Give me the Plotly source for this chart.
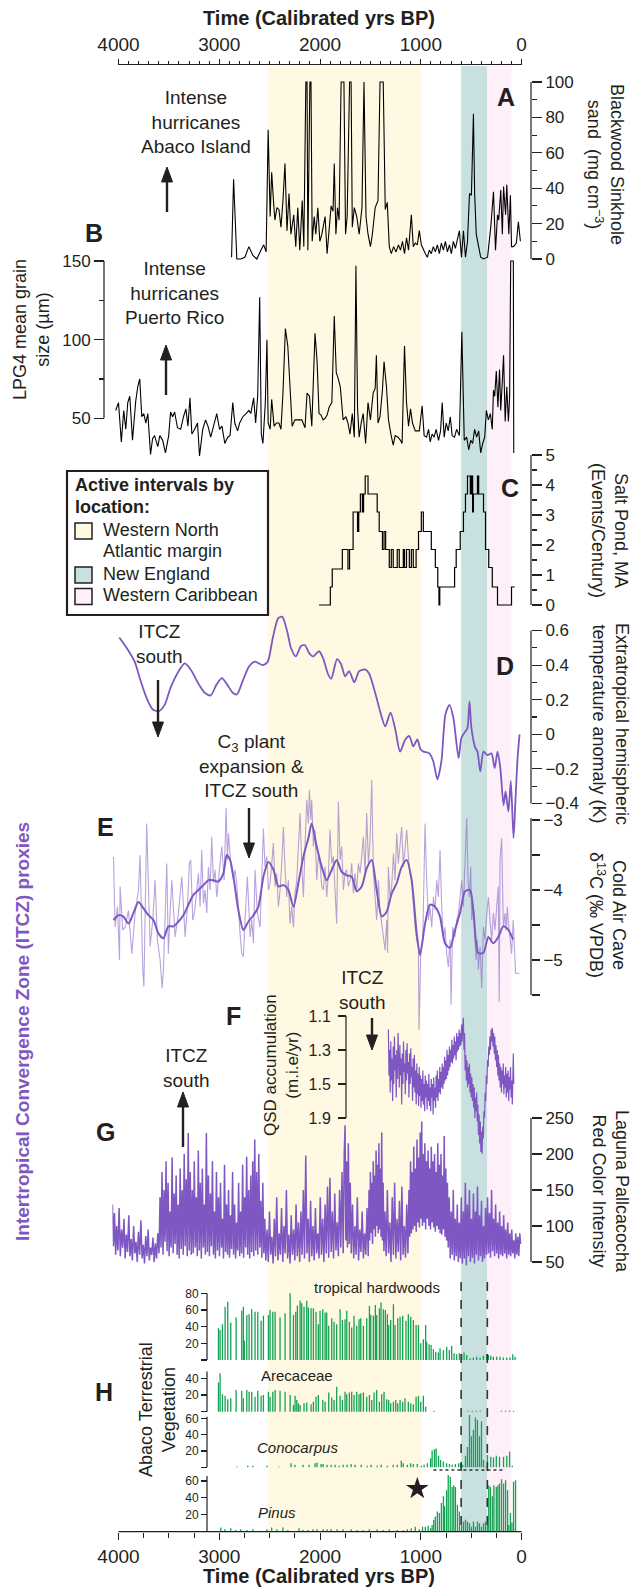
import plotly.graph_objects as go

W, H = 631, 1587
FONT = "Liberation Sans, Arial, Helvetica, sans-serif"
INK = "#231f20"
PURPLE = "#7e57c2"
PURPLE_LIGHT = "rgba(126,87,194,0.55)"
GREEN = "#14a354"
YELLOW_BAND = "#fff9e3"
TEAL_BAND = "#c9e0e1"
PINK_BAND = "#fdf0f8"

# ---------------- data ----------------
TOP_TICKS = [4000, 3000, 2000, 1000, 0]

BANDS = [(2520, 1000, YELLOW_BAND), (600, 340, TEAL_BAND), (340, 100, PINK_BAND)]

# A: Blackwood Sinkhole sand (mg cm-3)
A_year = [2878,2858,2826,2786,2746,2706,2667,2627,2587,2559,2535,2515,2495,2480,2460,2448,2428,2408,2388,2368,
          2348,2328,2308,2289,2261,2241,2221,2201,2177,2161,2141,2129,2121,2101,2090,2078,2058,2042,2022,2002,
          1982,1970,1950,1930,1910,1890,1871,1859,1843,1827,1811,1791,1763,1747,1731,1707,1692,1680,1660,1636,
          1612,1584,1564,1544,1524,1500,1481,1453,1425,1405,1373,1353,1333,1313,1293,1270,1246,1222,1202,1182,
          1162,1142,1122,1094,1075,1055,1035,1015,995,975,955,935,915,896,876,856,836,816,796,776,
          756,736,716,697,677,657,637,617,597,577,557,537,517,498,478,466,450,430,406,378,
          338,306,279,259,239,227,207,191,179,159,147,127,111,100,80,52,32,12]
A_sand = [1,45,0,0,1,7,2,0,5,8,4,73,24,49,31,22,29,28,18,33,
          54,16,37,14,25,7,29,5,33,7,100,100,5,100,100,10,24,14,29,10,
          14,18,24,3,18,30,27,54,14,29,22,100,100,14,24,100,100,18,29,24,
          14,29,100,24,14,7,14,29,33,100,100,28,32,7,3,7,4,8,5,10,
          3,12,5,25,7,9,8,16,8,5,3,1,5,3,7,4,8,3,9,5,
          10,4,8,3,10,6,12,16,1,16,1,10,37,36,82,37,14,7,1,0,
          1,18,38,5,25,22,39,14,41,25,42,14,36,7,7,9,21,10]

# B: LPG4 mean grain size (um)
B_year = [4028,4000,3972,3948,3928,3908,3888,3861,3829,3809,3789,3769,3749,3729,3709,3682,3662,3642,3610,3590,
          3562,3534,3502,3483,3463,3443,3415,3383,3355,3331,3311,3291,3272,3244,3216,3196,3164,3136,3112,3085,
          3053,3025,2997,2973,2945,2917,2893,2866,2846,2818,2798,2766,2734,2706,2687,2659,2639,2619,2599,2583,
          2567,2543,2527,2515,2495,2480,2456,2432,2408,2388,2368,2344,2320,2296,2277,2249,2209,2181,2149,2129,
          2105,2082,2050,2030,2010,1990,1970,1950,1930,1910,1883,1859,1839,1823,1799,1771,1743,1723,1703,1680,
          1660,1644,1628,1612,1592,1572,1548,1524,1500,1473,1453,1441,1425,1405,1381,1365,1341,1321,1294,1274,
          1254,1226,1202,1186,1162,1142,1122,1102,1083,1055,1015,987,967,943,923,907,888,868,848,824,
          804,788,768,748,728,708,689,665,645,617,593,569,545,525,505,486,466,446,426,406,
          386,366,350,330,310,291,279,267,251,235,219,207,191,179,163,147,131,119,108,82,78]
B_grain = [55,60,35,55,43,60,64,36,61,70,75,51,53,47,53,27,37,39,32,39,
           36,28,39,54,51,54,44,43,51,56,45,63,40,43,47,26,43,49,45,38,
           46,53,43,45,34,38,39,60,47,42,47,51,53,55,53,63,47,64,127,40,
           34,60,100,47,43,62,45,47,47,43,66,107,96,66,45,49,49,49,44,66,
           64,45,104,87,53,52,49,50,52,57,60,115,79,76,70,49,51,47,40,53,
           38,147,57,38,47,53,34,60,49,66,69,90,47,51,68,86,70,49,39,33,
           39,38,36,34,96,60,45,56,47,42,42,58,39,38,43,35,40,38,43,36,
           42,60,38,47,42,51,39,38,43,39,105,36,38,30,36,34,43,38,42,28,
           34,38,55,49,53,43,68,64,80,57,81,55,74,90,48,70,48,63,150,150,28]

# C: Salt Pond events per century (step levels)
C_year = [2010,1898,1879,1779,1723,1707,1672,1628,1616,1600,1580,1568,1552,1524,1433,1413,1381,1365,1349,1313,
          1293,1274,1234,1214,1174,1162,1142,1114,1094,1075,1047,1023,995,975,896,856,832,820,812,665,
          649,609,577,557,537,509,498,486,478,438,426,378,358,326,291,239,100,68]
C_rate = [0,0.6,1.2,1.85,1.2,1.85,3.1,2.45,3.1,3.7,3.1,3.7,4.3,3.7,3.1,2.45,1.85,2.45,1.85,1.25,
          1.85,1.25,1.85,1.25,1.85,1.25,1.85,1.25,1.85,1.25,1.85,2.45,3.1,2.45,1.85,1.25,0.6,0,0.6,1.25,
          1.85,2.45,3.1,3.7,4.3,3.7,4.3,3.1,3.7,4.3,3.7,3.1,1.85,1.25,0.6,0,0.6,0.6]

# D: extratropical hemispheric temperature anomaly (K)
D_year = [3992,3920,3840,3781,3721,3662,3602,3542,3483,3403,3343,3284,3204,3144,3085,3025,2973,2925,2866,2826,
          2766,2706,2647,2567,2519,2468,2416,2376,2328,2289,2241,2189,2149,2109,2070,2010,1970,1922,1890,1831,
          1791,1751,1711,1660,1612,1552,1512,1453,1405,1353,1301,1254,1206,1154,1114,1075,1035,1003,975,915,
          876,836,796,756,716,677,625,597,557,537,517,498,458,438,410,378,338,299,267,239,
          211,179,159,131,107,80,60,40,20]
D_temp = [0.56,0.50,0.42,0.31,0.21,0.145,0.133,0.17,0.27,0.365,0.41,0.375,0.29,0.24,0.225,0.29,0.325,0.29,0.24,0.23,
          0.31,0.39,0.42,0.40,0.42,0.56,0.67,0.68,0.60,0.50,0.45,0.51,0.515,0.47,0.45,0.48,0.44,0.35,0.32,0.435,
          0.405,0.335,0.365,0.30,0.365,0.375,0.35,0.24,0.135,0.046,0.125,0.03,-0.10,-0.03,-0.01,-0.07,-0.03,-0.087,-0.10,-0.11,
          -0.157,-0.26,-0.157,0.115,0.17,0.095,-0.137,-0.02,0.017,0.036,0.19,0.036,-0.08,-0.10,-0.215,-0.10,-0.12,-0.11,-0.195,-0.10,
          -0.195,-0.41,-0.33,-0.446,-0.27,-0.60,-0.37,-0.137,0.0]

# E: Cold Air Cave d13C raw (thin) and smoothed (thick)
E_raw = [(4050,-3.53),(4034,-4.53),(4010,-4.24),(3990,-5.0),(3984,-3.95),(3958,-4.57),(3934,-4.53),(3901,-4.29),
         (3868,-4.91),(3835,-4.33),(3802,-4.0),(3786,-3.5),(3759,-5.14),(3748,-5.38),(3720,-3.05),(3686,-4.81),
         (3660,-4.43),(3637,-3.86),(3614,-4.71),(3587,-5.0),(3567,-5.4),(3554,-5.14),(3521,-3.62),(3505,-4.91),
         (3488,-4.33),(3471,-3.86),(3438,-4.67),(3405,-4.33),(3372,-3.81),(3339,-4.67),(3316,-4.24),(3296,-3.62),
         (3283,-3.57),(3263,-4.43),(3247,-4.33),(3223,-4.0),(3207,-3.76),(3190,-4.24),(3174,-3.43),(3157,-4.19),
         (3141,-4.0),(3124,-4.33),(3108,-3.67),(3091,-4.0),(3075,-3.24),(3058,-3.9),(3042,-3.71),(3025,-4.1),
         (3009,-3.9),(2992,-3.62),(2975,-3.38),(2952,-3.86),(2932,-2.83),(2919,-3.57),(2909,-3.19),(2886,-3.62),
         (2860,-3.86),(2843,-3.71),(2827,-3.9),(2810,-4.33),(2794,-4.62),(2777,-4.91),(2761,-4.95),(2741,-4.33),
         (2721,-3.81),(2694,-4.67),(2678,-4.43),(2661,-4.76),(2645,-3.71),(2622,-4.33),(2595,-4.53),(2579,-3.86),
         (2562,-3.12),(2546,-3.67),(2529,-3.52),(2512,-4.0),(2496,-3.9),(2479,-3.62),(2463,-3.33),(2446,-3.95),
         (2430,-3.76),(2413,-4.24),(2397,-4.0),(2380,-3.62),(2364,-3.1),(2347,-3.71),(2331,-4.1),(2314,-3.86),
         (2298,-4.48),(2281,-4.24),(2264,-4.53),(2248,-4.05),(2231,-3.86),(2215,-3.38),(2198,-2.9),(2182,-3.62),
         (2165,-4.1),(2149,-3.38),(2132,-2.71),(2116,-3.05),(2106,-2.57),(2092,-3.0),(2083,-2.71),(2066,-3.38),
         (2050,-3.14),(2033,-3.86),(2017,-3.52),(2000,-3.62),(1983,-3.95),(1967,-4.0),(1950,-3.67),(1934,-4.1),
         (1917,-3.76),(1901,-3.14),(1884,-3.62),(1868,-3.52),(1851,-4.0),(1835,-4.48),(1818,-2.74),(1801,-3.57),
         (1785,-3.38),(1768,-4.0),(1752,-3.76),(1735,-3.71),(1719,-3.95),(1702,-3.86),(1686,-3.62),(1669,-4.05),
         (1653,-3.76),(1636,-4.0),(1620,-3.62),(1603,-3.76),(1587,-3.52),(1570,-3.24),(1553,-3.76),(1537,-2.9),
         (1520,-3.62),(1504,-3.29),(1487,-2.43),(1471,-3.76),(1454,-4.1),(1438,-4.43),(1421,-3.86),(1405,-4.29),
         (1388,-4.48),(1372,-4.67),(1355,-4.86),(1339,-4.43),(1330,-4.9),(1322,-3.67),(1305,-4.1),(1289,-3.95),
         (1272,-3.48),(1256,-3.86),(1239,-3.19),(1223,-3.62),(1206,-3.29),(1190,-3.1),(1173,-3.67),(1157,-3.38),
         (1140,-3.14),(1124,-3.52),(1107,-3.76),(1091,-3.86),(1074,-4.24),(1057,-4.53),(1041,-4.71),(1024,-4.81),
         (1018,-6.0),(1001,-4.91),(981,-4.71),(958,-3.05),(942,-3.86),(925,-4.43),(909,-4.24),(892,-4.53),
         (875,-4.1),(859,-4.29),(842,-3.86),(826,-4.1),(809,-3.43),(793,-4.24),(776,-4.71),(760,-4.53),
         (743,-4.91),(727,-5.1),(710,-4.71),(700,-5.64),(684,-4.53),(661,-4.67),(644,-4.43),(627,-4.33),
         (611,-4.1),(594,-3.86),(578,-4.24),(561,-3.62),(545,-2.98),(531,-3.86),(518,-4.1),(505,-3.67),
         (495,-4.43),(479,-4.24),(465,-4.62),(452,-5.0),(439,-4.71),(429,-5.14),(412,-4.81),(396,-5.4),
         (379,-4.53),(363,-4.71),(353,-4.48),(340,-4.24),(330,-4.1),(313,-4.43),(297,-4.71),(280,-4.33),
         (264,-4.57),(247,-4.24),(231,-3.95),(222,-5.6),(214,-3.57),(198,-3.26),(181,-4.53),(165,-4.33),
         (155,-4.57),(141,-4.24),(132,-4.48),(115,-4.67),(99,-4.91),(83,-4.43),(66,-4.91),(60,-5.19),(20,-5.19)]
E_smooth = [(4050,-4.43),(4000,-4.36),(3951,-4.38),(3901,-4.48),(3852,-4.33),(3802,-4.17),(3753,-4.26),(3703,-4.36),
            (3653,-4.43),(3604,-4.62),(3554,-4.69),(3505,-4.52),(3455,-4.52),(3405,-4.45),(3356,-4.36),(3306,-4.21),
            (3257,-4.07),(3207,-4.0),(3157,-3.93),(3108,-3.86),(3058,-3.86),(3009,-3.88),(2959,-3.76),(2926,-3.5),
            (2893,-3.57),(2860,-3.81),(2810,-4.29),(2761,-4.57),(2711,-4.45),(2661,-4.36),(2612,-4.24),(2562,-3.81),
            (2513,-3.6),(2463,-3.71),(2413,-3.95),(2364,-3.93),(2314,-4.0),(2264,-4.24),(2215,-3.9),(2165,-3.52),
            (2116,-3.26),(2083,-3.05),(2033,-3.38),(1983,-3.67),(1934,-3.86),(1884,-3.71),(1835,-3.57),(1785,-3.74),
            (1735,-3.79),(1686,-3.81),(1636,-4.02),(1587,-3.95),(1537,-3.69),(1487,-3.57),(1438,-4.0),(1388,-4.38),
            (1339,-4.31),(1289,-4.05),(1239,-3.9),(1190,-3.67),(1140,-3.57),(1091,-3.86),(1041,-4.62),(1008,-4.93),
            (958,-4.48),(909,-4.21),(859,-4.24),(810,-4.38),(760,-4.76),(711,-4.83),(661,-4.57),(612,-4.33),
            (562,-4.02),(512,-4.0),(479,-4.29),(430,-4.9),(380,-4.9),(330,-4.67),(281,-4.76),(231,-4.67),
            (182,-4.52),(132,-4.57),(83,-4.71)]

# F: QSD accumulation (m.i.e/yr)
F_data = [(1322,1.18),(1316,1.45),(1310,1.30),(1304,1.55),(1298,1.25),(1292,1.48),(1286,1.35),(1280,1.60),(1274,1.28),
          (1268,1.50),(1262,1.22),(1256,1.42),(1250,1.33),(1244,1.58),(1238,1.30),(1232,1.47),(1226,1.20),(1220,1.40),
          (1214,1.52),(1208,1.27),(1202,1.45),(1196,1.35),(1190,1.62),(1184,1.32),(1178,1.50),(1172,1.25),(1166,1.43),
          (1160,1.38),(1154,1.56),(1148,1.30),(1142,1.48),(1136,1.26),(1130,1.44),(1124,1.37),(1118,1.58),(1112,1.32),
          (1106,1.50),(1100,1.29),(1094,1.46),(1088,1.40),(1082,1.60),(1076,1.35),(1070,1.52),(1064,1.33),(1058,1.55),
          (1052,1.42),(1046,1.62),(1040,1.38),(1034,1.56),(1028,1.44),(1022,1.63),(1016,1.40),(1010,1.57),(1004,1.45),
          (998,1.64),(992,1.47),(986,1.60),(980,1.42),(974,1.62),(968,1.50),(962,1.66),(956,1.45),(950,1.58),
          (944,1.48),(938,1.65),(932,1.50),(926,1.60),(920,1.44),(914,1.63),(908,1.52),(902,1.66),(896,1.47),
          (890,1.58),(884,1.50),(878,1.68),(872,1.46),(866,1.60),(860,1.52),(854,1.64),(848,1.45),(842,1.58),
          (836,1.42),(830,1.60),(824,1.47),(818,1.55),(812,1.40),(806,1.56),(800,1.43),(794,1.52),(788,1.38),
          (782,1.53),(776,1.40),(770,1.50),(764,1.34),(758,1.48),(752,1.36),(746,1.47),(740,1.30),(734,1.45),
          (728,1.33),(722,1.42),(716,1.28),(710,1.40),(704,1.30),(698,1.37),(692,1.24),(686,1.38),(680,1.27),
          (674,1.35),(668,1.22),(662,1.33),(656,1.25),(650,1.36),(644,1.20),(638,1.31),(632,1.22),(626,1.30),
          (620,1.18),(614,1.28),(608,1.20),(602,1.27),(596,1.15),(590,1.25),(584,1.17),(578,1.11),(572,1.30),
          (566,1.20),(560,1.42),(554,1.33),(548,1.48),(542,1.36),(536,1.52),(530,1.40),(524,1.50),(518,1.38),
          (512,1.55),(506,1.44),(500,1.58),(494,1.46),(488,1.60),(482,1.50),(476,1.64),(470,1.52),(464,1.70),
          (458,1.58),(452,1.66),(446,1.55),(440,1.72),(434,1.62),(428,1.80),(422,1.68),(416,1.85),(410,1.72),
          (404,1.90),(398,1.78),(392,1.91),(386,1.75),(380,1.82),(374,1.66),(368,1.70),(362,1.55),(356,1.60),
          (350,1.45),(344,1.50),(338,1.36),(332,1.40),(326,1.28),(320,1.33),(314,1.22),(308,1.30),(302,1.18),
          (296,1.25),(290,1.17),(284,1.28),(278,1.20),(272,1.32),(266,1.22),(260,1.36),(254,1.27),(248,1.40),
          (242,1.30),(236,1.45),(230,1.33),(224,1.48),(218,1.38),(212,1.52),(206,1.40),(200,1.55),(194,1.42),
          (188,1.50),(182,1.38),(176,1.56),(170,1.45),(164,1.52),(158,1.40),(152,1.58),(146,1.44),(140,1.55),
          (134,1.42),(128,1.60),(122,1.46),(116,1.53),(110,1.40),(104,1.58),(98,1.48),(92,1.62),(86,1.42),
          (82,1.32),(78,1.50)]

# G: Laguna Pallcacocha red color intensity
G_data = [(4060,130),(4050,72),(4040,118),(4028,60),(4018,100),(4006,66),(3994,125),(3982,58),(3970,95),(3958,70),
          (3946,110),(3934,55),(3922,88),(3910,64),(3898,115),(3886,58),(3874,82),(3862,52),(3850,100),(3838,62),
          (3826,78),(3814,50),(3802,92),(3790,60),(3778,108),(3766,55),(3754,74),(3742,48),(3730,86),(3718,58),
          (3706,95),(3694,52),(3682,70),(3670,60),(3658,84),(3646,50),(3634,76),(3622,55),(3610,90),(3598,62),
          (3588,140),(3578,70),(3568,175),(3558,60),(3548,150),(3538,78),(3528,190),(3518,65),(3508,160),(3498,58),
          (3488,120),(3478,70),(3468,195),(3458,62),(3448,145),(3438,75),(3428,170),(3418,60),(3408,130),(3398,55),
          (3388,180),(3378,68),(3368,150),(3358,60),(3348,200),(3338,72),(3328,165),(3318,58),(3308,229),(3298,66),
          (3288,175),(3278,60),(3268,150),(3258,62),(3248,190),(3238,70),(3228,140),(3218,58),(3208,205),(3198,66),
          (3188,160),(3178,55),(3168,180),(3158,70),(3148,130),(3138,60),(3128,229),(3118,64),(3108,170),(3098,58),
          (3088,145),(3078,72),(3068,190),(3058,60),(3048,120),(3038,55),(3028,175),(3018,66),(3008,140),(2998,58),
          (2988,160),(2978,70),(2968,110),(2958,55),(2948,185),(2938,64),(2928,130),(2918,60),(2908,150),(2898,56),
          (2888,115),(2878,68),(2868,175),(2858,60),(2848,130),(2838,55),(2828,105),(2818,66),(2808,160),(2798,58),
          (2788,120),(2778,62),(2768,185),(2758,56),(2748,140),(2738,70),(2728,196),(2718,60),(2708,150),(2698,55),
          (2688,170),(2678,64),(2668,190),(2658,58),(2648,220),(2638,66),(2628,175),(2618,60),(2608,200),(2598,70),
          (2588,135),(2578,56),(2568,160),(2558,62),(2548,110),(2538,52),(2526,95),(2514,50),(2502,120),(2490,60),
          (2478,85),(2466,48),(2454,110),(2442,58),(2430,140),(2418,52),(2406,90),(2394,60),(2382,125),(2370,50),
          (2358,100),(2346,62),(2334,150),(2322,55),(2310,88),(2298,48),(2286,115),(2274,60),(2262,95),(2250,52),
          (2238,130),(2226,58),(2214,105),(2202,50),(2190,120),(2178,60),(2166,150),(2154,55),(2142,198),(2130,62),
          (2118,110),(2106,50),(2094,135),(2082,58),(2070,100),(2058,52),(2046,125),(2034,62),(2022,90),(2010,55),
          (1998,140),(1986,60),(1974,110),(1962,50),(1950,130),(1938,62),(1926,155),(1914,56),(1902,167),(1890,64),
          (1878,120),(1866,55),(1854,145),(1842,66),(1830,105),(1818,58),(1806,150),(1794,70),(1782,175),(1770,62),
          (1760,200),(1752,240),(1744,80),(1736,190),(1728,70),(1719,215),(1710,75),(1700,160),(1690,62),(1678,130),
          (1666,55),(1654,100),(1642,60),(1630,140),(1618,52),(1606,95),(1594,64),(1582,120),(1570,55),(1558,90),
          (1546,60),(1534,125),(1522,58),(1514,150),(1507,80),(1500,175),(1493,90),(1486,160),(1479,75),(1472,190),
          (1465,95),(1458,170),(1451,85),(1444,205),(1437,100),(1430,185),(1423,90),(1416,215),(1409,95),(1402,180),
          (1395,85),(1388,230),(1381,80),(1374,160),(1366,65),(1356,120),(1344,58),(1332,150),(1320,62),(1308,105),
          (1296,50),(1284,140),(1272,60),(1260,160),(1248,55),(1236,110),(1224,64),(1212,135),(1200,52),(1188,155),
          (1176,60),(1164,100),(1152,56),(1140,130),(1128,62),(1118,150),(1110,85),(1102,190),(1094,90),(1086,175),
          (1078,95),(1070,210),(1062,100),(1054,180),(1046,92),(1038,220),(1030,105),(1022,195),(1014,98),(1006,230),
          (998,110),(991,245),(984,100),(976,200),(968,105),(960,215),(952,95),(944,190),(936,110),(928,205),
          (920,100),(912,180),(904,95),(896,210),(888,105),(880,190),(872,98),(864,200),(856,92),(848,175),
          (840,100),(832,215),(824,95),(816,185),(808,90),(800,200),(792,88),(784,170),(776,95),(768,225),
          (760,85),(752,180),(744,80),(736,160),(728,70),(718,140),(708,55),(698,120),(688,60),(678,150),
          (668,52),(658,110),(648,58),(638,130),(628,50),(618,105),(608,55),(598,140),(588,48),(578,120),
          (568,55),(558,160),(548,45),(538,130),(528,58),(518,150),(508,50),(498,110),(488,56),(478,145),
          (468,48),(458,120),(448,60),(438,155),(428,52),(418,115),(408,58),(398,135),(388,50),(378,100),
          (368,55),(358,125),(348,60),(338,140),(328,62),(318,118),(308,56),(298,150),(288,65),(278,110),
          (268,58),(258,130),(248,62),(238,105),(228,55),(218,120),(208,60),(198,100),(188,58),(178,115),
          (168,62),(158,95),(148,55),(138,105),(128,60),(118,90),(108,58),(98,95),(88,62),(78,80),
          (68,55),(58,90),(48,60),(38,85),(28,58),(18,90),(10,75)]

# H: Abaco terrestrial vegetation (%)
TH_year = [3008,2992,2969,2942,2916,2886,2833,2777,2761,2751,2727,2704,2678,2645,2618,2585,2562,2512,2496,2469,
           2446,2397,2347,2297,2264,2241,2225,2198,2182,2159,2132,2116,2089,2066,2040,2017,2000,1973,1950,1934,
           1914,1884,1861,1835,1801,1778,1752,1735,1709,1686,1663,1636,1613,1596,1570,1537,1510,1497,1471,1451,
           1438,1411,1395,1372,1352,1332,1319,1299,1272,1256,1229,1206,1180,1147,1124,1100,1074,1047,1024,1001,
           975,952,942,918,898,875,852,826,809,776,743,717,694,670,644,617,594,571,545,512,
           479,446,412,379,346,330,306,280,247,214,181,148,115,88,65]
TH_val = [38,36,43,64,70,45,51,59,64,23,54,55,61,58,58,47,53,54,60,58,
          58,51,56,80,54,58,65,71,68,64,71,63,62,62,58,43,59,61,57,57,
          41,50,46,43,61,48,49,59,46,39,53,41,49,50,41,50,65,54,53,66,
          54,62,69,61,60,55,42,48,67,42,50,52,53,47,55,52,48,42,42,20,
          25,42,22,19,18,13,10,9,14,12,16,12,17,8,7,8,7,9,6,2,
          3,4,3,5,7,6,5,4,4,4,3,3,3,7,4]

AR_year = [3008,2992,2969,2942,2916,2886,2833,2777,2761,2727,2704,2678,2645,2618,2585,2562,2512,2496,2469,2446,
           2397,2347,2297,2264,2248,2231,2215,2198,2159,2132,2089,2066,2040,2017,1973,1950,1914,1884,1861,1835,
           1801,1778,1752,1735,1709,1686,1663,1636,1613,1596,1570,1537,1510,1487,1464,1438,1411,1388,1365,1339,
           1319,1299,1272,1249,1229,1206,1180,1157,1124,1100,1074,1047,1024,1001,975,952,870,530,490,450,
           410,200,160,120,80]
AR_val = [35,46,21,19,15,16,26,25,16,26,24,24,18,25,19,20,24,18,24,26,
          25,24,20,8,19,14,10,8,10,11,9,12,18,20,14,12,23,17,14,30,
          19,14,24,21,23,24,20,24,21,22,23,18,20,14,23,26,12,21,24,15,
          14,10,12,14,10,14,12,16,12,10,9,18,19,12,19,6,1,1,1,1,
          1,1,1,1,1]

CO_year = [2826,2718,2667,2527,2408,2288,2249,2169,2109,2050,2030,1990,1970,1930,1890,1851,1811,1771,1731,1692,
           1652,1592,1532,1493,1433,1393,1333,1274,1234,1194,1174,1134,1102,1075,1035,995,967,935,903,888,
           864,848,824,804,776,744,716,689,657,625,605,585,557,537,517,498,478,458,438,418,
           398,378,358,338,306,279,251,219,179,147,119,92]
CO_val = [1,2,2,2,1,5,3,3,3,5,6,4,4,3,3,3,2,3,3,4,
          3,3,2,3,2,3,2,3,3,8,5,3,5,4,4,2,3,5,11,21,
          22,23,14,9,7,5,4,3,4,5,5,3,14,25,64,38,46,61,58,38,
          56,9,1,15,13,12,14,13,13,14,19,2]

PI_year = [2985,2945,2886,2838,2786,2726,2667,2587,2527,2480,2428,2368,2320,2209,2169,2121,2070,2030,1970,1930,
           1890,1831,1771,1692,1632,1572,1512,1433,1373,1313,1234,1174,1134,1095,1055,1015,983,955,927,903,
           888,872,856,836,816,796,776,764,744,728,708,689,673,657,637,617,597,577,557,537,
           517,498,478,458,438,418,398,378,358,338,326,310,291,275,251,235,219,199,179,159,
           139,127,111,96,80,60]
PI_val = [5,3,4,2,3,2,3,1,3,5,3,5,2,4,2,2,3,3,3,3,
          3,3,3,3,2,2,3,3,2,3,2,2,3,4,6,3,6,6,7,4,
          8,14,18,24,22,34,42,30,49,67,65,53,55,53,32,24,8,12,14,12,
          10,6,12,6,12,10,6,10,12,18,55,53,42,55,53,55,57,62,57,61,
          49,8,22,11,59,61]

STAR_YEAR, STAR_VAL = 1035, 51

# ---------------- geometry helpers ----------------
X4000, X0 = 118.5, 521.6
PX_PER_YR = (X0 - X4000) / 4000.0
XMAX, XMIN = 4060, -40


def year_px(yr):
    return X0 - yr * PX_PER_YR


XDOM = [year_px(XMAX) / W, year_px(XMIN) / W]


def fx(px):
    return px / W


def fy(py):
    return 1 - py / H


def yax(v1, p1, v2, p2, pt, pb, side, pos, tickvals, ticktext=None, minor=None,
        ticklen=10, minorlen=None, size=17, standoff=None):
    s = (v2 - v1) / (p2 - p1)
    d = dict(domain=[1 - pb / H, 1 - pt / H],
             range=[v1 + (pb - p1) * s, v1 + (pt - p1) * s],
             anchor="free", position=pos / W, side=side, automargin=False,
             showline=False, showgrid=False, zeroline=False,
             ticks="outside", ticklen=ticklen, tickwidth=1.1, tickcolor=INK,
             tickvals=tickvals, tickfont=dict(family=FONT, size=size, color=INK),
             fixedrange=True)
    if ticktext is not None:
        d["ticktext"] = ticktext
    if minor is not None:
        d["minor"] = dict(tickvals=minor, ticks="outside",
                          ticklen=(minorlen if minorlen is not None else ticklen / 2),
                          tickwidth=1.1, tickcolor=INK)
    if standoff is not None:
        d["ticklabelstandoff"] = standoff
    return d


RX = 531

fig = go.Figure()


def line(x, y, yaxis, color, width, shape="linear", xaxis="x"):
    ln = dict(color=color, width=width, shape=shape)
    if shape == "spline":
        ln["smoothing"] = 0.7
    fig.add_trace(go.Scatter(x=x, y=y, xaxis=xaxis, yaxis=yaxis, mode="lines", line=ln,
                             hoverinfo="skip", showlegend=False))


def bars(x, y, yaxis):
    fig.add_trace(go.Bar(x=x, y=y, xaxis="x", yaxis=yaxis, width=13,
                         marker=dict(color=GREEN, line=dict(width=0)),
                         hoverinfo="skip", showlegend=False))


line(A_year, A_sand, "y", "black", 1.1)
line(B_year, B_grain, "y2", "black", 1.1)
line(C_year, C_rate, "y3", "black", 1.2, shape="hv")
line(D_year, D_temp, "y4", PURPLE, 1.8, shape="spline")
line([p[0] for p in E_raw], [p[1] for p in E_raw], "y5", PURPLE_LIGHT, 1.1)
line([p[0] for p in E_smooth], [p[1] for p in E_smooth], "y5", PURPLE, 2.0, shape="spline")
line([p[0] for p in F_data], [p[1] for p in F_data], "y6", PURPLE, 1.2)
line([p[0] for p in G_data], [p[1] for p in G_data], "y7", PURPLE, 1.5)
bars(TH_year, TH_val, "y8")
bars(AR_year, AR_val, "y9")
bars(CO_year, CO_val, "y10")
bars(PI_year, PI_val, "y11")
fig.add_trace(go.Scatter(x=[STAR_YEAR], y=[STAR_VAL], xaxis="x", yaxis="y11", mode="markers",
                         marker=dict(symbol="star", size=17, color=INK),
                         hoverinfo="skip", showlegend=False))
fig.add_trace(go.Scatter(x=[], y=[], xaxis="x2", yaxis="y11", mode="lines",
                         hoverinfo="skip", showlegend=False))

# ---------------- shapes ----------------
shapes = []
for y0, y1, col in BANDS:
    shapes.append(dict(type="rect", xref="x", yref="paper", x0=y0, x1=y1, y0=fy(1532), y1=fy(66),
                       fillcolor=col, line=dict(width=0), layer="below"))

for yr in (600, 340):
    shapes.append(dict(type="line", xref="x", yref="paper", x0=yr, x1=yr, y0=fy(1282), y1=fy(1532),
                       line=dict(color="#333333", width=1.6, dash="dash"), layer="above"))
shapes.append(dict(type="line", xref="x", yref="paper", x0=875, x1=160, y0=fy(1470), y1=fy(1470),
                   line=dict(color="#333333", width=1.4, dash="dot"), layer="above"))

AXLINES = [("y", RX, 0, 100), ("y2", 104, 50, 150), ("y3", RX, 0, 5), ("y4", RX, -0.4, 0.6),
           ("y5", RX, -2.97, -5.5), ("y6", 346, 1.1, 1.7), ("y7", RX, 50, 250),
           ("y8", 207, 0, 80), ("y9", 207, 0, 48), ("y10", 207, 0, 62), ("y11", 207, 0, 66)]
for yref, pos, v0, v1 in AXLINES:
    shapes.append(dict(type="line", xref="paper", yref=yref, x0=fx(pos), x1=fx(pos), y0=v0, y1=v1,
                       line=dict(color=INK, width=1.2), layer="above"))
for ypx in (64.5, 1531.7):
    shapes.append(dict(type="line", xref="x", yref="paper", x0=4000, x1=0, y0=fy(ypx), y1=fy(ypx),
                       line=dict(color=INK, width=1.2), layer="above"))

# legend box
shapes.append(dict(type="rect", xref="paper", yref="paper", x0=fx(67), x1=fx(268), y0=fy(615), y1=fy(471),
                   fillcolor="white", line=dict(color=INK, width=2.2), layer="above"))
for cy, col in ((531, YELLOW_BAND), (575, TEAL_BAND), (596.5, PINK_BAND)):
    shapes.append(dict(type="rect", xref="paper", yref="paper", x0=fx(75), x1=fx(92), y0=fy(cy + 8),
                       y1=fy(cy - 8), fillcolor=col, line=dict(color=INK, width=1.5), layer="above"))


def arrow(px, head, tail):
    d = 1 if head > tail else -1
    base = head - d * 15
    shapes.append(dict(type="line", xref="paper", yref="paper", x0=fx(px), x1=fx(px),
                       y0=fy(tail), y1=fy(base), line=dict(color=INK, width=2.4), layer="above"))
    path = "M {:.5f},{:.5f} L {:.5f},{:.5f} L {:.5f},{:.5f} Z".format(
        fx(px - 5.5), fy(base), fx(px + 5.5), fy(base), fx(px), fy(head))
    shapes.append(dict(type="path", xref="paper", yref="paper", path=path,
                       fillcolor=INK, line=dict(color=INK, width=1), layer="above"))


arrow(167, 167, 212)
arrow(166, 345, 395)
arrow(158, 737, 680)
arrow(249, 858, 808)
arrow(372, 1050, 1018)
arrow(183, 1092, 1147)

# ---------------- annotations ----------------
ann = []


def txt(s, px, py, size=19, color=INK, angle=0, xanchor="center"):
    ann.append(dict(text=s, x=fx(px), y=fy(py), xref="paper", yref="paper", showarrow=False,
                    font=dict(family=FONT, size=size, color=color), textangle=angle,
                    xanchor=xanchor, yanchor="middle"))


txt("<b>Time (Calibrated yrs BP)</b>", 319, 18, size=20)
txt("<b>Time (Calibrated yrs BP)</b>", 319, 1576, size=20)

for letter, px, py in (("A", 506, 97), ("B", 94, 233), ("C", 510, 488), ("D", 505, 666),
                       ("E", 105, 827), ("F", 233, 1016), ("G", 105, 1132), ("H", 104, 1392)):
    txt("<b>" + letter + "</b>", px, py, size=25)

txt("Blackwood Sinkhole<br>sand  (mg cm<sup>−3</sup>)", 606, 164, size=18, angle=90)
txt("LPG4 mean grain<br>size (µm)", 31, 330, size=18, angle=-90)
txt("Salt Pond, MA<br>(Events/Century)", 610, 530, size=18, angle=90)
txt("Extratropical hemispheric<br>temperature anomaly (K)", 611, 724, size=18, angle=90)
txt("Cold Air Cave<br>δ<sup>13</sup>C (‰ VPDB)", 607, 915, size=18, angle=90)
txt("QSD accumulation<br>(m.i.e/yr)", 281, 1065, size=17, angle=-90)
txt("Laguna Pallcacocha<br>Red Color Intensity", 611, 1191, size=18, angle=90)
txt("Abaco Terrestrial<br>Vegetation", 157, 1410, size=18, angle=-90)
txt("<b>Intertropical Convergence Zone (ITCZ) proxies</b>", 22, 1032, size=19, color=PURPLE, angle=-90)

txt("Intense<br>hurricanes<br>Abaco Island", 196, 122)
txt("Intense<br>hurricanes<br>Puerto Rico", 174, 293)
txt("ITCZ<br>south", 159, 644)
txt("C<sub>3</sub> plant<br>expansion &<br>ITCZ south", 251, 766)
txt("ITCZ<br>south", 362, 990)
txt("ITCZ<br>south", 186, 1068)

txt("tropical hardwoods", 377, 1287, size=15)
txt("Arecaceae", 297, 1375, size=15)
txt("<i>Conocarpus</i>", 297, 1447, size=15)
txt("<i>Pinus</i>", 277, 1512, size=15)

txt("<b>Active intervals by</b>", 73, 485, size=18, xanchor="left")
txt("<b>location:</b>", 73, 507, size=18, xanchor="left")
txt("Western North", 101, 530, size=18, xanchor="left")
txt("Atlantic margin", 101, 551, size=18, xanchor="left")
txt("New England", 101, 574, size=18, xanchor="left")
txt("Western Caribbean", 101, 595, size=18, xanchor="left")

# ---------------- layout ----------------
xcommon = dict(domain=XDOM, range=[XMAX, XMIN], anchor="free", automargin=False, showline=False,
               showgrid=False, zeroline=False, ticks="outside", tickwidth=1.1, tickcolor=INK,
               tickvals=TOP_TICKS, tickfont=dict(family=FONT, size=19, color=INK), fixedrange=True)

layout = dict(
    template="none",
    width=W, height=H, margin=dict(l=0, r=0, t=0, b=0, pad=0), autosize=False,
    paper_bgcolor="white", plot_bgcolor="rgba(0,0,0,0)",
    showlegend=False, barmode="overlay", hovermode=False,
    font=dict(family=FONT, color=INK),
    xaxis=dict(xcommon, position=fy(64.5), side="top", ticklen=6,
               minor=dict(tickvals=[y for y in range(100, 4000, 100) if y % 1000], ticks="outside",
                          ticklen=3.5, tickwidth=1, tickcolor=INK)),
    xaxis2=dict(xcommon, matches="x", position=fy(1531.7), side="bottom", ticklen=7,
                minor=dict(tickvals=[y for y in range(250, 4000, 250) if y % 1000], ticks="outside",
                           ticklen=5, tickwidth=1, tickcolor=INK)),
    yaxis=yax(0, 259, 100, 82, 78, 263, "right", RX, [0, 20, 40, 60, 80, 100], minor=[10, 30, 50, 70, 90]),
    yaxis2=yax(150, 261, 50, 418.3, 255, 462, "left", 104, [50, 100, 150], minor=[75, 125]),
    yaxis3=yax(0, 605, 4, 485, 450, 610, "right", RX, [0, 1, 2, 3, 4, 5],
               minor=[0.5, 1.5, 2.5, 3.5, 4.5]),
    yaxis4=yax(0.6, 630.5, -0.4, 803.5, 600, 845, "right", RX, [0.6, 0.4, 0.2, 0, -0.2, -0.4],
               minor=[0.5, 0.3, 0.1, -0.1, -0.3]),
    yaxis5=yax(-3, 820, -5, 960, 770, 1040, "right", RX, [-3, -4, -5],
               ticktext=["−3", "−4", "−5"], minor=[-3.5, -4.5, -5.5], ticklen=8, minorlen=8),
    yaxis6=yax(1.1, 1016, 1.5, 1084, 995, 1165, "left", 346, [1.1, 1.3, 1.5, 1.7],
               ticktext=["1.1", "1.3", "1.5", "1.9"], ticklen=8, size=16, standoff=4),
    yaxis7=yax(250, 1118, 50, 1262, 1105, 1280, "right", RX, [50, 100, 150, 200, 250]),
    yaxis8=yax(0, 1360, 80, 1293.3, 1285, 1361, "left", 207, [20, 40, 60, 80],
               minor=[0], ticklen=6, minorlen=6, size=12),
    yaxis9=yax(0, 1411.7, 40, 1378.3, 1366, 1412.5, "left", 207, [20, 40],
               minor=[0], ticklen=6, minorlen=6, size=12),
    yaxis10=yax(0, 1467.3, 60, 1418.3, 1412.5, 1468, "left", 207, [20, 40, 60],
                minor=[0], ticklen=6, minorlen=6, size=12),
    yaxis11=yax(0, 1531.7, 60, 1481, 1470, 1532.5, "left", 207, [20, 40, 60], ticklen=6, size=12),
    shapes=shapes,
    annotations=ann,
)
fig.update_layout(**layout)
fig.write_html("out.html",
               config={"displayModeBar": False, "staticPlot": True},
               post_script="document.body.style.margin='0px';document.body.style.padding='0px';")
